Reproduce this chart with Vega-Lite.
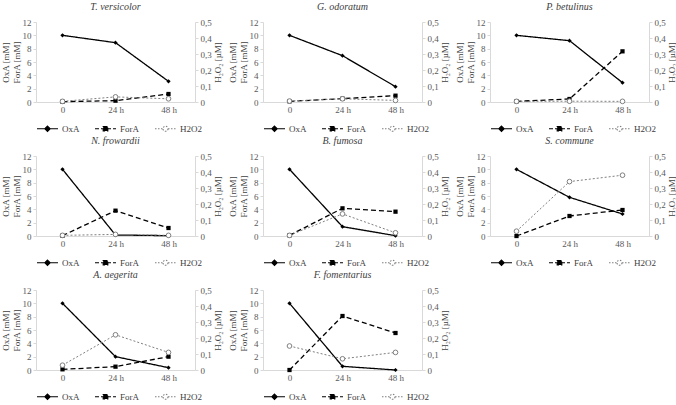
{
"$schema": "https://vega.github.io/schema/vega-lite/v6.json",
"padding": {"left": 1, "top": 2, "right": 0, "bottom": 2},
"background": "white",
"data": {"values": [
{"sp":"T. versicolor","t":"0","s":"OxA","v":10},{"sp":"T. versicolor","t":"24 h","s":"OxA","v":8.9},{"sp":"T. versicolor","t":"48 h","s":"OxA","v":3.1},
{"sp":"T. versicolor","t":"0","s":"ForA","v":0.05},{"sp":"T. versicolor","t":"24 h","s":"ForA","v":0.2},{"sp":"T. versicolor","t":"48 h","s":"ForA","v":1.2},
{"sp":"T. versicolor","t":"0","s":"H2O2","v":0.004},{"sp":"T. versicolor","t":"24 h","s":"H2O2","v":0.032},{"sp":"T. versicolor","t":"48 h","s":"H2O2","v":0.02},
{"sp":"G. odoratum","t":"0","s":"OxA","v":10},{"sp":"G. odoratum","t":"24 h","s":"OxA","v":6.95},{"sp":"G. odoratum","t":"48 h","s":"OxA","v":2.3},
{"sp":"G. odoratum","t":"0","s":"ForA","v":0.1},{"sp":"G. odoratum","t":"24 h","s":"ForA","v":0.5},{"sp":"G. odoratum","t":"48 h","s":"ForA","v":0.95},
{"sp":"G. odoratum","t":"0","s":"H2O2","v":0.006},{"sp":"G. odoratum","t":"24 h","s":"H2O2","v":0.02},{"sp":"G. odoratum","t":"48 h","s":"H2O2","v":0.01},
{"sp":"P. betulinus","t":"0","s":"OxA","v":10},{"sp":"P. betulinus","t":"24 h","s":"OxA","v":9.2},{"sp":"P. betulinus","t":"48 h","s":"OxA","v":2.9},
{"sp":"P. betulinus","t":"0","s":"ForA","v":0.1},{"sp":"P. betulinus","t":"24 h","s":"ForA","v":0.45},{"sp":"P. betulinus","t":"48 h","s":"ForA","v":7.6},
{"sp":"P. betulinus","t":"0","s":"H2O2","v":0.004},{"sp":"P. betulinus","t":"24 h","s":"H2O2","v":0.005},{"sp":"P. betulinus","t":"48 h","s":"H2O2","v":0.004},
{"sp":"N. frowardii","t":"0","s":"OxA","v":10},{"sp":"N. frowardii","t":"24 h","s":"OxA","v":0.15},{"sp":"N. frowardii","t":"48 h","s":"OxA","v":0.05},
{"sp":"N. frowardii","t":"0","s":"ForA","v":0.05},{"sp":"N. frowardii","t":"24 h","s":"ForA","v":3.8},{"sp":"N. frowardii","t":"48 h","s":"ForA","v":1.2},
{"sp":"N. frowardii","t":"0","s":"H2O2","v":0.004},{"sp":"N. frowardii","t":"24 h","s":"H2O2","v":0.01},{"sp":"N. frowardii","t":"48 h","s":"H2O2","v":0.004},
{"sp":"B. fumosa","t":"0","s":"OxA","v":10},{"sp":"B. fumosa","t":"24 h","s":"OxA","v":1.4},{"sp":"B. fumosa","t":"48 h","s":"OxA","v":0.05},
{"sp":"B. fumosa","t":"0","s":"ForA","v":0.1},{"sp":"B. fumosa","t":"24 h","s":"ForA","v":4.15},{"sp":"B. fumosa","t":"48 h","s":"ForA","v":3.65},
{"sp":"B. fumosa","t":"0","s":"H2O2","v":0.004},{"sp":"B. fumosa","t":"24 h","s":"H2O2","v":0.138},{"sp":"B. fumosa","t":"48 h","s":"H2O2","v":0.02},
{"sp":"S. commune","t":"0","s":"OxA","v":10},{"sp":"S. commune","t":"24 h","s":"OxA","v":5.8},{"sp":"S. commune","t":"48 h","s":"OxA","v":3.3},
{"sp":"S. commune","t":"0","s":"ForA","v":0.0},{"sp":"S. commune","t":"24 h","s":"ForA","v":3.0},{"sp":"S. commune","t":"48 h","s":"ForA","v":3.9},
{"sp":"S. commune","t":"0","s":"H2O2","v":0.03},{"sp":"S. commune","t":"24 h","s":"H2O2","v":0.34},{"sp":"S. commune","t":"48 h","s":"H2O2","v":0.38},
{"sp":"A. aegerita","t":"0","s":"OxA","v":10},{"sp":"A. aegerita","t":"24 h","s":"OxA","v":2.0},{"sp":"A. aegerita","t":"48 h","s":"OxA","v":0.35},
{"sp":"A. aegerita","t":"0","s":"ForA","v":0.1},{"sp":"A. aegerita","t":"24 h","s":"ForA","v":0.5},{"sp":"A. aegerita","t":"48 h","s":"ForA","v":2.0},
{"sp":"A. aegerita","t":"0","s":"H2O2","v":0.03},{"sp":"A. aegerita","t":"24 h","s":"H2O2","v":0.22},{"sp":"A. aegerita","t":"48 h","s":"H2O2","v":0.11},
{"sp":"F. fomentarius","t":"0","s":"OxA","v":10},{"sp":"F. fomentarius","t":"24 h","s":"OxA","v":0.55},{"sp":"F. fomentarius","t":"48 h","s":"OxA","v":0.0},
{"sp":"F. fomentarius","t":"0","s":"ForA","v":0.0},{"sp":"F. fomentarius","t":"24 h","s":"ForA","v":8.1},{"sp":"F. fomentarius","t":"48 h","s":"ForA","v":5.55},
{"sp":"F. fomentarius","t":"0","s":"H2O2","v":0.15},{"sp":"F. fomentarius","t":"24 h","s":"H2O2","v":0.07},{"sp":"F. fomentarius","t":"48 h","s":"H2O2","v":0.11}
]},
"columns": 3,
"spacing": {"row": 2, "column": 5},
"resolve": {"scale": {"x": "independent", "y": "independent", "color": "independent", "strokeDash": "independent", "shape": "independent"}, "legend": {"color": "independent"}},
"concat": [
{"title": "T. versicolor", "width": 159, "height": 80,
 "transform": [{"filter": "datum.sp === 'T. versicolor'"}],
 "encoding": {"x": {"field": "t", "type": "ordinal", "sort": ["0","24 h","48 h"], "scale": {"type": "point", "padding": 0.5}, "axis": {"title": null, "labelAngle": 0}}},
 "layer": [
  {"transform": [{"filter": "datum.s !== 'H2O2'"}],
   "encoding": {"y": {"field": "v", "type": "quantitative", "scale": {"domain": [0, 12]}, "axis": {"title": ["OxA [mM]", "ForA [mM]"], "values": [0,2,4,6,8,10,12]}}},
   "layer": [
    {"mark": {"type": "line", "strokeWidth": 1.3}, "encoding": {
      "color": {"field": "s", "type": "nominal", "scale": {"domain": ["OxA","ForA","H2O2"], "range": ["#000000","#000000","#7f7f7f"]},
        "legend": {"title": null, "orient": "bottom", "direction": "horizontal", "symbolSize": 441, "labelFont": "Liberation Serif, DejaVu Serif, serif", "labelFontSize": 9, "labelColor": "#404040", "columnPadding": 12, "labelOffset": 3, "offset": 3,
          "encode": {"symbols": {"update": {
            "shape": {"signal": "datum.value === 'OxA' ? 'M-1,0H1M0,-0.26L0.26,0L0,0.26L-0.26,0Z' : datum.value === 'ForA' ? 'M-1,0H1M-0.22,-0.22H0.22V0.22H-0.22Z' : 'M-1,0H-0.24M0.24,0H1M0.24,0A0.24,0.24 0 1,1 -0.24,0A0.24,0.24 0 1,1 0.24,0Z'"},
            "fill": {"signal": "datum.value === 'H2O2' ? '#ffffff' : '#000000'"},
            "strokeDash": {"signal": "datum.value === 'OxA' ? [] : datum.value === 'ForA' ? [4,2] : [1.5,1.5]"},
            "strokeWidth": {"value": 1.1}}}}}},
      "strokeDash": {"field": "s", "type": "nominal", "scale": {"domain": ["OxA","ForA"], "range": [[1,0],[5,3]]}, "legend": null}}},
    {"mark": {"type": "point", "filled": true, "color": "#000000", "opacity": 1, "size": 18}, "encoding": {"shape": {"field": "s", "type": "nominal", "scale": {"domain": ["OxA","ForA"], "range": ["diamond","square"]}, "legend": null}}}
   ]},
  {"transform": [{"filter": "datum.s === 'H2O2'"}],
   "encoding": {"y": {"field": "v", "type": "quantitative", "scale": {"domain": [0, 0.5]}, "axis": {"orient": "right", "title": "H₂O₂ [µM]", "titleAngle": 270, "titleBaseline": "top", "labelPadding": 2, "titlePadding": 2, "values": [0,0.1,0.2,0.3,0.4,0.5], "labelExpr": "replace(format(datum.value,'.1~f'),'.',',')"}}},
   "layer": [
    {"mark": {"type": "line", "strokeWidth": 1, "color": "#7f7f7f", "strokeDash": [2,2]}, "encoding": {}},
    {"mark": {"type": "point", "filled": true, "fill": "#ffffff", "stroke": "#7f7f7f", "strokeWidth": 1, "opacity": 1, "size": 22}, "encoding": {}}
   ]}
 ],
 "resolve": {"scale": {"y": "independent"}}},
{"title": "G. odoratum", "width": 159, "height": 80,
 "transform": [{"filter": "datum.sp === 'G. odoratum'"}],
 "encoding": {"x": {"field": "t", "type": "ordinal", "sort": ["0","24 h","48 h"], "scale": {"type": "point", "padding": 0.5}, "axis": {"title": null, "labelAngle": 0}}},
 "layer": [
  {"transform": [{"filter": "datum.s !== 'H2O2'"}],
   "encoding": {"y": {"field": "v", "type": "quantitative", "scale": {"domain": [0, 12]}, "axis": {"title": ["OxA [mM]", "ForA [mM]"], "values": [0,2,4,6,8,10,12]}}},
   "layer": [
    {"mark": {"type": "line", "strokeWidth": 1.3}, "encoding": {
      "color": {"field": "s", "type": "nominal", "scale": {"domain": ["OxA","ForA","H2O2"], "range": ["#000000","#000000","#7f7f7f"]},
        "legend": {"title": null, "orient": "bottom", "direction": "horizontal", "symbolSize": 441, "labelFont": "Liberation Serif, DejaVu Serif, serif", "labelFontSize": 9, "labelColor": "#404040", "columnPadding": 12, "labelOffset": 3, "offset": 3,
          "encode": {"symbols": {"update": {
            "shape": {"signal": "datum.value === 'OxA' ? 'M-1,0H1M0,-0.26L0.26,0L0,0.26L-0.26,0Z' : datum.value === 'ForA' ? 'M-1,0H1M-0.22,-0.22H0.22V0.22H-0.22Z' : 'M-1,0H-0.24M0.24,0H1M0.24,0A0.24,0.24 0 1,1 -0.24,0A0.24,0.24 0 1,1 0.24,0Z'"},
            "fill": {"signal": "datum.value === 'H2O2' ? '#ffffff' : '#000000'"},
            "strokeDash": {"signal": "datum.value === 'OxA' ? [] : datum.value === 'ForA' ? [4,2] : [1.5,1.5]"},
            "strokeWidth": {"value": 1.1}}}}}},
      "strokeDash": {"field": "s", "type": "nominal", "scale": {"domain": ["OxA","ForA"], "range": [[1,0],[5,3]]}, "legend": null}}},
    {"mark": {"type": "point", "filled": true, "color": "#000000", "opacity": 1, "size": 18}, "encoding": {"shape": {"field": "s", "type": "nominal", "scale": {"domain": ["OxA","ForA"], "range": ["diamond","square"]}, "legend": null}}}
   ]},
  {"transform": [{"filter": "datum.s === 'H2O2'"}],
   "encoding": {"y": {"field": "v", "type": "quantitative", "scale": {"domain": [0, 0.5]}, "axis": {"orient": "right", "title": "H₂O₂ [µM]", "titleAngle": 270, "titleBaseline": "top", "labelPadding": 2, "titlePadding": 2, "values": [0,0.1,0.2,0.3,0.4,0.5], "labelExpr": "replace(format(datum.value,'.1~f'),'.',',')"}}},
   "layer": [
    {"mark": {"type": "line", "strokeWidth": 1, "color": "#7f7f7f", "strokeDash": [2,2]}, "encoding": {}},
    {"mark": {"type": "point", "filled": true, "fill": "#ffffff", "stroke": "#7f7f7f", "strokeWidth": 1, "opacity": 1, "size": 22}, "encoding": {}}
   ]}
 ],
 "resolve": {"scale": {"y": "independent"}}},
{"title": "P. betulinus", "width": 159, "height": 80,
 "transform": [{"filter": "datum.sp === 'P. betulinus'"}],
 "encoding": {"x": {"field": "t", "type": "ordinal", "sort": ["0","24 h","48 h"], "scale": {"type": "point", "padding": 0.5}, "axis": {"title": null, "labelAngle": 0}}},
 "layer": [
  {"transform": [{"filter": "datum.s !== 'H2O2'"}],
   "encoding": {"y": {"field": "v", "type": "quantitative", "scale": {"domain": [0, 12]}, "axis": {"title": ["OxA [mM]", "ForA [mM]"], "values": [0,2,4,6,8,10,12]}}},
   "layer": [
    {"mark": {"type": "line", "strokeWidth": 1.3}, "encoding": {
      "color": {"field": "s", "type": "nominal", "scale": {"domain": ["OxA","ForA","H2O2"], "range": ["#000000","#000000","#7f7f7f"]},
        "legend": {"title": null, "orient": "bottom", "direction": "horizontal", "symbolSize": 441, "labelFont": "Liberation Serif, DejaVu Serif, serif", "labelFontSize": 9, "labelColor": "#404040", "columnPadding": 12, "labelOffset": 3, "offset": 3,
          "encode": {"symbols": {"update": {
            "shape": {"signal": "datum.value === 'OxA' ? 'M-1,0H1M0,-0.26L0.26,0L0,0.26L-0.26,0Z' : datum.value === 'ForA' ? 'M-1,0H1M-0.22,-0.22H0.22V0.22H-0.22Z' : 'M-1,0H-0.24M0.24,0H1M0.24,0A0.24,0.24 0 1,1 -0.24,0A0.24,0.24 0 1,1 0.24,0Z'"},
            "fill": {"signal": "datum.value === 'H2O2' ? '#ffffff' : '#000000'"},
            "strokeDash": {"signal": "datum.value === 'OxA' ? [] : datum.value === 'ForA' ? [4,2] : [1.5,1.5]"},
            "strokeWidth": {"value": 1.1}}}}}},
      "strokeDash": {"field": "s", "type": "nominal", "scale": {"domain": ["OxA","ForA"], "range": [[1,0],[5,3]]}, "legend": null}}},
    {"mark": {"type": "point", "filled": true, "color": "#000000", "opacity": 1, "size": 18}, "encoding": {"shape": {"field": "s", "type": "nominal", "scale": {"domain": ["OxA","ForA"], "range": ["diamond","square"]}, "legend": null}}}
   ]},
  {"transform": [{"filter": "datum.s === 'H2O2'"}],
   "encoding": {"y": {"field": "v", "type": "quantitative", "scale": {"domain": [0, 0.5]}, "axis": {"orient": "right", "title": "H₂O₂ [µM]", "titleAngle": 270, "titleBaseline": "top", "labelPadding": 2, "titlePadding": 2, "values": [0,0.1,0.2,0.3,0.4,0.5], "labelExpr": "replace(format(datum.value,'.1~f'),'.',',')"}}},
   "layer": [
    {"mark": {"type": "line", "strokeWidth": 1, "color": "#7f7f7f", "strokeDash": [2,2]}, "encoding": {}},
    {"mark": {"type": "point", "filled": true, "fill": "#ffffff", "stroke": "#7f7f7f", "strokeWidth": 1, "opacity": 1, "size": 22}, "encoding": {}}
   ]}
 ],
 "resolve": {"scale": {"y": "independent"}}},
{"title": "N. frowardii", "width": 159, "height": 80,
 "transform": [{"filter": "datum.sp === 'N. frowardii'"}],
 "encoding": {"x": {"field": "t", "type": "ordinal", "sort": ["0","24 h","48 h"], "scale": {"type": "point", "padding": 0.5}, "axis": {"title": null, "labelAngle": 0}}},
 "layer": [
  {"transform": [{"filter": "datum.s !== 'H2O2'"}],
   "encoding": {"y": {"field": "v", "type": "quantitative", "scale": {"domain": [0, 12]}, "axis": {"title": ["OxA [mM]", "ForA [mM]"], "values": [0,2,4,6,8,10,12]}}},
   "layer": [
    {"mark": {"type": "line", "strokeWidth": 1.3}, "encoding": {
      "color": {"field": "s", "type": "nominal", "scale": {"domain": ["OxA","ForA","H2O2"], "range": ["#000000","#000000","#7f7f7f"]},
        "legend": {"title": null, "orient": "bottom", "direction": "horizontal", "symbolSize": 441, "labelFont": "Liberation Serif, DejaVu Serif, serif", "labelFontSize": 9, "labelColor": "#404040", "columnPadding": 12, "labelOffset": 3, "offset": 3,
          "encode": {"symbols": {"update": {
            "shape": {"signal": "datum.value === 'OxA' ? 'M-1,0H1M0,-0.26L0.26,0L0,0.26L-0.26,0Z' : datum.value === 'ForA' ? 'M-1,0H1M-0.22,-0.22H0.22V0.22H-0.22Z' : 'M-1,0H-0.24M0.24,0H1M0.24,0A0.24,0.24 0 1,1 -0.24,0A0.24,0.24 0 1,1 0.24,0Z'"},
            "fill": {"signal": "datum.value === 'H2O2' ? '#ffffff' : '#000000'"},
            "strokeDash": {"signal": "datum.value === 'OxA' ? [] : datum.value === 'ForA' ? [4,2] : [1.5,1.5]"},
            "strokeWidth": {"value": 1.1}}}}}},
      "strokeDash": {"field": "s", "type": "nominal", "scale": {"domain": ["OxA","ForA"], "range": [[1,0],[5,3]]}, "legend": null}}},
    {"mark": {"type": "point", "filled": true, "color": "#000000", "opacity": 1, "size": 18}, "encoding": {"shape": {"field": "s", "type": "nominal", "scale": {"domain": ["OxA","ForA"], "range": ["diamond","square"]}, "legend": null}}}
   ]},
  {"transform": [{"filter": "datum.s === 'H2O2'"}],
   "encoding": {"y": {"field": "v", "type": "quantitative", "scale": {"domain": [0, 0.5]}, "axis": {"orient": "right", "title": "H₂O₂ [µM]", "titleAngle": 270, "titleBaseline": "top", "labelPadding": 2, "titlePadding": 2, "values": [0,0.1,0.2,0.3,0.4,0.5], "labelExpr": "replace(format(datum.value,'.1~f'),'.',',')"}}},
   "layer": [
    {"mark": {"type": "line", "strokeWidth": 1, "color": "#7f7f7f", "strokeDash": [2,2]}, "encoding": {}},
    {"mark": {"type": "point", "filled": true, "fill": "#ffffff", "stroke": "#7f7f7f", "strokeWidth": 1, "opacity": 1, "size": 22}, "encoding": {}}
   ]}
 ],
 "resolve": {"scale": {"y": "independent"}}},
{"title": "B. fumosa", "width": 159, "height": 80,
 "transform": [{"filter": "datum.sp === 'B. fumosa'"}],
 "encoding": {"x": {"field": "t", "type": "ordinal", "sort": ["0","24 h","48 h"], "scale": {"type": "point", "padding": 0.5}, "axis": {"title": null, "labelAngle": 0}}},
 "layer": [
  {"transform": [{"filter": "datum.s !== 'H2O2'"}],
   "encoding": {"y": {"field": "v", "type": "quantitative", "scale": {"domain": [0, 12]}, "axis": {"title": ["OxA [mM]", "ForA [mM]"], "values": [0,2,4,6,8,10,12]}}},
   "layer": [
    {"mark": {"type": "line", "strokeWidth": 1.3}, "encoding": {
      "color": {"field": "s", "type": "nominal", "scale": {"domain": ["OxA","ForA","H2O2"], "range": ["#000000","#000000","#7f7f7f"]},
        "legend": {"title": null, "orient": "bottom", "direction": "horizontal", "symbolSize": 441, "labelFont": "Liberation Serif, DejaVu Serif, serif", "labelFontSize": 9, "labelColor": "#404040", "columnPadding": 12, "labelOffset": 3, "offset": 3,
          "encode": {"symbols": {"update": {
            "shape": {"signal": "datum.value === 'OxA' ? 'M-1,0H1M0,-0.26L0.26,0L0,0.26L-0.26,0Z' : datum.value === 'ForA' ? 'M-1,0H1M-0.22,-0.22H0.22V0.22H-0.22Z' : 'M-1,0H-0.24M0.24,0H1M0.24,0A0.24,0.24 0 1,1 -0.24,0A0.24,0.24 0 1,1 0.24,0Z'"},
            "fill": {"signal": "datum.value === 'H2O2' ? '#ffffff' : '#000000'"},
            "strokeDash": {"signal": "datum.value === 'OxA' ? [] : datum.value === 'ForA' ? [4,2] : [1.5,1.5]"},
            "strokeWidth": {"value": 1.1}}}}}},
      "strokeDash": {"field": "s", "type": "nominal", "scale": {"domain": ["OxA","ForA"], "range": [[1,0],[5,3]]}, "legend": null}}},
    {"mark": {"type": "point", "filled": true, "color": "#000000", "opacity": 1, "size": 18}, "encoding": {"shape": {"field": "s", "type": "nominal", "scale": {"domain": ["OxA","ForA"], "range": ["diamond","square"]}, "legend": null}}}
   ]},
  {"transform": [{"filter": "datum.s === 'H2O2'"}],
   "encoding": {"y": {"field": "v", "type": "quantitative", "scale": {"domain": [0, 0.5]}, "axis": {"orient": "right", "title": "H₂O₂ [µM]", "titleAngle": 270, "titleBaseline": "top", "labelPadding": 2, "titlePadding": 2, "values": [0,0.1,0.2,0.3,0.4,0.5], "labelExpr": "replace(format(datum.value,'.1~f'),'.',',')"}}},
   "layer": [
    {"mark": {"type": "line", "strokeWidth": 1, "color": "#7f7f7f", "strokeDash": [2,2]}, "encoding": {}},
    {"mark": {"type": "point", "filled": true, "fill": "#ffffff", "stroke": "#7f7f7f", "strokeWidth": 1, "opacity": 1, "size": 22}, "encoding": {}}
   ]}
 ],
 "resolve": {"scale": {"y": "independent"}}},
{"title": "S. commune", "width": 159, "height": 80,
 "transform": [{"filter": "datum.sp === 'S. commune'"}],
 "encoding": {"x": {"field": "t", "type": "ordinal", "sort": ["0","24 h","48 h"], "scale": {"type": "point", "padding": 0.5}, "axis": {"title": null, "labelAngle": 0}}},
 "layer": [
  {"transform": [{"filter": "datum.s !== 'H2O2'"}],
   "encoding": {"y": {"field": "v", "type": "quantitative", "scale": {"domain": [0, 12]}, "axis": {"title": ["OxA [mM]", "ForA [mM]"], "values": [0,2,4,6,8,10,12]}}},
   "layer": [
    {"mark": {"type": "line", "strokeWidth": 1.3}, "encoding": {
      "color": {"field": "s", "type": "nominal", "scale": {"domain": ["OxA","ForA","H2O2"], "range": ["#000000","#000000","#7f7f7f"]},
        "legend": {"title": null, "orient": "bottom", "direction": "horizontal", "symbolSize": 441, "labelFont": "Liberation Serif, DejaVu Serif, serif", "labelFontSize": 9, "labelColor": "#404040", "columnPadding": 12, "labelOffset": 3, "offset": 3,
          "encode": {"symbols": {"update": {
            "shape": {"signal": "datum.value === 'OxA' ? 'M-1,0H1M0,-0.26L0.26,0L0,0.26L-0.26,0Z' : datum.value === 'ForA' ? 'M-1,0H1M-0.22,-0.22H0.22V0.22H-0.22Z' : 'M-1,0H-0.24M0.24,0H1M0.24,0A0.24,0.24 0 1,1 -0.24,0A0.24,0.24 0 1,1 0.24,0Z'"},
            "fill": {"signal": "datum.value === 'H2O2' ? '#ffffff' : '#000000'"},
            "strokeDash": {"signal": "datum.value === 'OxA' ? [] : datum.value === 'ForA' ? [4,2] : [1.5,1.5]"},
            "strokeWidth": {"value": 1.1}}}}}},
      "strokeDash": {"field": "s", "type": "nominal", "scale": {"domain": ["OxA","ForA"], "range": [[1,0],[5,3]]}, "legend": null}}},
    {"mark": {"type": "point", "filled": true, "color": "#000000", "opacity": 1, "size": 18}, "encoding": {"shape": {"field": "s", "type": "nominal", "scale": {"domain": ["OxA","ForA"], "range": ["diamond","square"]}, "legend": null}}}
   ]},
  {"transform": [{"filter": "datum.s === 'H2O2'"}],
   "encoding": {"y": {"field": "v", "type": "quantitative", "scale": {"domain": [0, 0.5]}, "axis": {"orient": "right", "title": "H₂O₂ [µM]", "titleAngle": 270, "titleBaseline": "top", "labelPadding": 2, "titlePadding": 2, "values": [0,0.1,0.2,0.3,0.4,0.5], "labelExpr": "replace(format(datum.value,'.1~f'),'.',',')"}}},
   "layer": [
    {"mark": {"type": "line", "strokeWidth": 1, "color": "#7f7f7f", "strokeDash": [2,2]}, "encoding": {}},
    {"mark": {"type": "point", "filled": true, "fill": "#ffffff", "stroke": "#7f7f7f", "strokeWidth": 1, "opacity": 1, "size": 22}, "encoding": {}}
   ]}
 ],
 "resolve": {"scale": {"y": "independent"}}},
{"title": "A. aegerita", "width": 159, "height": 80,
 "transform": [{"filter": "datum.sp === 'A. aegerita'"}],
 "encoding": {"x": {"field": "t", "type": "ordinal", "sort": ["0","24 h","48 h"], "scale": {"type": "point", "padding": 0.5}, "axis": {"title": null, "labelAngle": 0}}},
 "layer": [
  {"transform": [{"filter": "datum.s !== 'H2O2'"}],
   "encoding": {"y": {"field": "v", "type": "quantitative", "scale": {"domain": [0, 12]}, "axis": {"title": ["OxA [mM]", "ForA [mM]"], "values": [0,2,4,6,8,10,12]}}},
   "layer": [
    {"mark": {"type": "line", "strokeWidth": 1.3}, "encoding": {
      "color": {"field": "s", "type": "nominal", "scale": {"domain": ["OxA","ForA","H2O2"], "range": ["#000000","#000000","#7f7f7f"]},
        "legend": {"title": null, "orient": "bottom", "direction": "horizontal", "symbolSize": 441, "labelFont": "Liberation Serif, DejaVu Serif, serif", "labelFontSize": 9, "labelColor": "#404040", "columnPadding": 12, "labelOffset": 3, "offset": 3,
          "encode": {"symbols": {"update": {
            "shape": {"signal": "datum.value === 'OxA' ? 'M-1,0H1M0,-0.26L0.26,0L0,0.26L-0.26,0Z' : datum.value === 'ForA' ? 'M-1,0H1M-0.22,-0.22H0.22V0.22H-0.22Z' : 'M-1,0H-0.24M0.24,0H1M0.24,0A0.24,0.24 0 1,1 -0.24,0A0.24,0.24 0 1,1 0.24,0Z'"},
            "fill": {"signal": "datum.value === 'H2O2' ? '#ffffff' : '#000000'"},
            "strokeDash": {"signal": "datum.value === 'OxA' ? [] : datum.value === 'ForA' ? [4,2] : [1.5,1.5]"},
            "strokeWidth": {"value": 1.1}}}}}},
      "strokeDash": {"field": "s", "type": "nominal", "scale": {"domain": ["OxA","ForA"], "range": [[1,0],[5,3]]}, "legend": null}}},
    {"mark": {"type": "point", "filled": true, "color": "#000000", "opacity": 1, "size": 18}, "encoding": {"shape": {"field": "s", "type": "nominal", "scale": {"domain": ["OxA","ForA"], "range": ["diamond","square"]}, "legend": null}}}
   ]},
  {"transform": [{"filter": "datum.s === 'H2O2'"}],
   "encoding": {"y": {"field": "v", "type": "quantitative", "scale": {"domain": [0, 0.5]}, "axis": {"orient": "right", "title": "H₂O₂ [µM]", "titleAngle": 270, "titleBaseline": "top", "labelPadding": 2, "titlePadding": 2, "values": [0,0.1,0.2,0.3,0.4,0.5], "labelExpr": "replace(format(datum.value,'.1~f'),'.',',')"}}},
   "layer": [
    {"mark": {"type": "line", "strokeWidth": 1, "color": "#7f7f7f", "strokeDash": [2,2]}, "encoding": {}},
    {"mark": {"type": "point", "filled": true, "fill": "#ffffff", "stroke": "#7f7f7f", "strokeWidth": 1, "opacity": 1, "size": 22}, "encoding": {}}
   ]}
 ],
 "resolve": {"scale": {"y": "independent"}}},
{"title": "F. fomentarius", "width": 159, "height": 80,
 "transform": [{"filter": "datum.sp === 'F. fomentarius'"}],
 "encoding": {"x": {"field": "t", "type": "ordinal", "sort": ["0","24 h","48 h"], "scale": {"type": "point", "padding": 0.5}, "axis": {"title": null, "labelAngle": 0}}},
 "layer": [
  {"transform": [{"filter": "datum.s !== 'H2O2'"}],
   "encoding": {"y": {"field": "v", "type": "quantitative", "scale": {"domain": [0, 12]}, "axis": {"title": ["OxA [mM]", "ForA [mM]"], "values": [0,2,4,6,8,10,12]}}},
   "layer": [
    {"mark": {"type": "line", "strokeWidth": 1.3}, "encoding": {
      "color": {"field": "s", "type": "nominal", "scale": {"domain": ["OxA","ForA","H2O2"], "range": ["#000000","#000000","#7f7f7f"]},
        "legend": {"title": null, "orient": "bottom", "direction": "horizontal", "symbolSize": 441, "labelFont": "Liberation Serif, DejaVu Serif, serif", "labelFontSize": 9, "labelColor": "#404040", "columnPadding": 12, "labelOffset": 3, "offset": 3,
          "encode": {"symbols": {"update": {
            "shape": {"signal": "datum.value === 'OxA' ? 'M-1,0H1M0,-0.26L0.26,0L0,0.26L-0.26,0Z' : datum.value === 'ForA' ? 'M-1,0H1M-0.22,-0.22H0.22V0.22H-0.22Z' : 'M-1,0H-0.24M0.24,0H1M0.24,0A0.24,0.24 0 1,1 -0.24,0A0.24,0.24 0 1,1 0.24,0Z'"},
            "fill": {"signal": "datum.value === 'H2O2' ? '#ffffff' : '#000000'"},
            "strokeDash": {"signal": "datum.value === 'OxA' ? [] : datum.value === 'ForA' ? [4,2] : [1.5,1.5]"},
            "strokeWidth": {"value": 1.1}}}}}},
      "strokeDash": {"field": "s", "type": "nominal", "scale": {"domain": ["OxA","ForA"], "range": [[1,0],[5,3]]}, "legend": null}}},
    {"mark": {"type": "point", "filled": true, "color": "#000000", "opacity": 1, "size": 18}, "encoding": {"shape": {"field": "s", "type": "nominal", "scale": {"domain": ["OxA","ForA"], "range": ["diamond","square"]}, "legend": null}}}
   ]},
  {"transform": [{"filter": "datum.s === 'H2O2'"}],
   "encoding": {"y": {"field": "v", "type": "quantitative", "scale": {"domain": [0, 0.5]}, "axis": {"orient": "right", "title": "H₂O₂ [µM]", "titleAngle": 270, "titleBaseline": "top", "labelPadding": 2, "titlePadding": 2, "values": [0,0.1,0.2,0.3,0.4,0.5], "labelExpr": "replace(format(datum.value,'.1~f'),'.',',')"}}},
   "layer": [
    {"mark": {"type": "line", "strokeWidth": 1, "color": "#7f7f7f", "strokeDash": [2,2]}, "encoding": {}},
    {"mark": {"type": "point", "filled": true, "fill": "#ffffff", "stroke": "#7f7f7f", "strokeWidth": 1, "opacity": 1, "size": 22}, "encoding": {}}
   ]}
 ],
 "resolve": {"scale": {"y": "independent"}}}
],
"config": {
 "view": {"stroke": null},
 "font": "Liberation Serif, DejaVu Serif, serif",
 "axis": {"labelFont": "Liberation Serif, DejaVu Serif, serif", "labelFontSize": 9, "labelColor": "#595959", "titleFont": "Liberation Serif, DejaVu Serif, serif", "titleFontSize": 9, "titleFontWeight": "normal", "titleColor": "#404040", "grid": false, "domain": true, "domainColor": "#d9d9d9", "tickColor": "#d9d9d9", "labelPadding": 2, "titlePadding": 1},
 "axisX": {"ticks": false, "labelPadding": 3},
 "axisY": {"ticks": true, "tickSize": 3},
 "title": {"font": "Liberation Serif, DejaVu Serif, serif", "fontSize": 10, "fontStyle": "italic", "fontWeight": "normal", "color": "#404040", "offset": 6}
}
}
